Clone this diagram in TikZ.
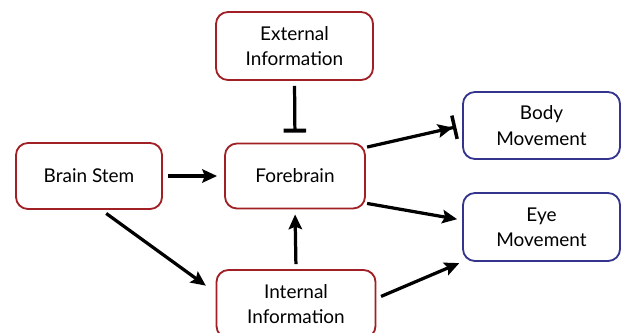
\documentclass[tikz,border=0pt]{standalone}
\usepackage{fontspec}
\setmainfont{Lato}
\usetikzlibrary{arrows.meta}

\definecolor{boxred}{RGB}{160,32,38}
\definecolor{boxblue}{RGB}{52,52,140}

\tikzset{
    box/.style={draw, rectangle, rounded corners=0.3cm, line width=1.3pt, align=center,
        font=\fontsize{13.5}{18}\selectfont},
    redbox/.style={box, draw=boxred},
    bluebox/.style={box, draw=boxblue},
    arr/.style={line width=2.3pt, -{Stealth[length=10.5pt, width=9.5pt, inset=1.8pt]}},
    blockarr/.style={line width=2.3pt, -{Bar[width=16pt, line width=2.8pt]}},
    blockarrow/.style={line width=2.3pt, -{Stealth[length=10.5pt, width=9.5pt, inset=1.8pt] Bar[width=17pt, line width=2.5pt]}}
}

\begin{document}
\begin{tikzpicture}[x=0.025cm, y=-0.025cm]
    \useasboundingbox (0,0) rectangle (623,332);

    % 左侧与中间
    \node[redbox, minimum width=3.925cm, minimum height=1.7cm] (ext) at (294.5,46) {External\\Information};
    \node[redbox, minimum width=3.5cm, minimum height=1.625cm] (fore) at (295,176) {Forebrain};
    \node[redbox, minimum width=3.65cm, minimum height=1.65cm] (brain) at (89,176) {Brain Stem};
    \node[redbox, minimum width=3.975cm, minimum height=1.7cm] (int) at (296,304) {Internal\\Information};

    % 右侧
    \node[bluebox, minimum width=3.925cm, minimum height=1.675cm] (body) at (541.5,125.5) {Body\\Movement};
    \node[bluebox, minimum width=3.925cm, minimum height=1.7cm] (eye) at (541.5,227) {Eye\\Movement};

    % 连线
    \draw[blockarr, shorten <=0.125cm, shorten >=0.25cm] (ext.south) -- (fore.north);
    \draw[arr, shorten <=0.125cm, shorten >=0.175cm] (brain.east) -- (fore.west);
    \draw[arr, shorten <=0.15cm, shorten >=0.3cm] (brain.-70) -- (int.172);
    \draw[arr, shorten <=0.125cm, shorten >=0.125cm] (int.north) -- (fore.south);
    \draw[blockarrow, shorten <=0.03cm, shorten >=0.15cm] (fore.22) -- (body.west);
    \draw[arr, shorten <=0.03cm, shorten >=0.125cm] (fore.-21) -- (eye.175);
    \draw[arr, shorten <=0.125cm, shorten >=0.075cm] (int.4) -- (eye.south west);
\end{tikzpicture}
\end{document}
